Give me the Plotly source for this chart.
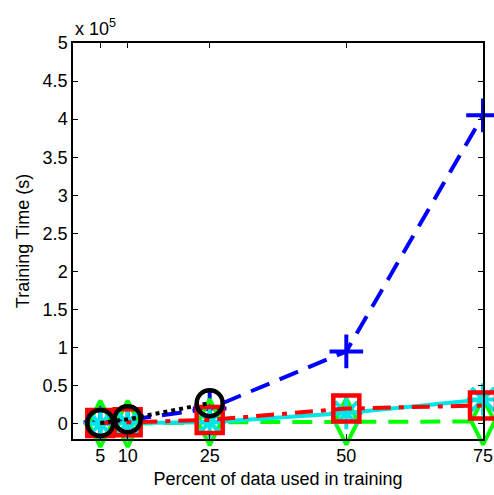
import plotly.graph_objects as go

# Training time (seconds) versus share of data used for training
pct = [5, 10, 25, 50, 75]
pct_short = [5, 10, 25]

time_blue = [2000, 5000, 20000, 95000, 405000]
time_black = [1000, 6000, 27000]
time_red = [1000, 2000, 5000, 20000, 24000]
time_cyan = [0, 1000, 2000, 14000, 32000]
time_green = [0, 0, 2000, 3000, 3000]

y_ticks = [0, 50000, 100000, 150000, 200000, 250000, 300000, 350000, 400000, 450000, 500000]
y_tick_text = ["0", "0.5", "1", "1.5", "2", "2.5", "3", "3.5", "4", "4.5", "5"]
x_ticks = [5, 10, 25, 50, 75]

FONT = "Liberation Sans, Arial, Helvetica, sans-serif"
FS = 18

fig = go.Figure()

fig.add_trace(go.Scatter(
    x=pct, y=time_blue, mode="lines+markers", cliponaxis=False,
    line=dict(color="#0000ff", width=4, dash="20px,11px"),
    marker=dict(symbol="cross-thin-open", size=24, color="#0000ff",
                line=dict(color="#0000ff", width=4)),
))
fig.add_trace(go.Scatter(
    x=pct, y=time_green, mode="lines+markers", cliponaxis=False,
    line=dict(color="#00ff00", width=4, dash="20px,12px"),
    marker=dict(symbol="diamond-tall-open", size=33, color="#00ff00",
                line=dict(color="#00ff00", width=4)),
))
fig.add_trace(go.Scatter(
    x=pct, y=time_cyan, mode="lines+markers", cliponaxis=False,
    line=dict(color="#00e5e5", width=4),
    marker=dict(symbol="asterisk-open", size=27, color="#00e5e5",
                line=dict(color="#00e5e5", width=4)),
))
fig.add_trace(go.Scatter(
    x=pct, y=time_red, mode="lines+markers", cliponaxis=False,
    line=dict(color="#ff0000", width=4, dash="18px,8px,5px,8px"),
    marker=dict(symbol="square-open", size=26, color="#ff0000",
                line=dict(color="#ff0000", width=4.5)),
))
fig.add_trace(go.Scatter(
    x=pct_short, y=time_black, mode="lines+markers", cliponaxis=False,
    line=dict(color="#000000", width=4, dash="dot"),
    marker=dict(symbol="circle-open", size=26, color="#000000",
                line=dict(color="#000000", width=4.5)),
))

axis_common = dict(
    showline=True, linecolor="#000000", linewidth=1.5, mirror="allticks",
    ticks="inside", ticklen=5, tickcolor="#000000", tickwidth=1,
    showgrid=False, zeroline=False, automargin=False,
    tickfont=dict(family=FONT, size=FS, color="#000000"),
)

fig.update_xaxes(
    range=[0, 75], tickmode="array", tickvals=x_ticks,
    ticktext=[str(v) for v in x_ticks],
    title=dict(text="Percent of data used in training",
               font=dict(family=FONT, size=FS, color="#000000"), standoff=7),
    **axis_common,
)
fig.update_yaxes(
    range=[-20000, 500000], tickmode="array", tickvals=y_ticks,
    ticktext=y_tick_text,
    title=dict(text="Training Time (s)",
               font=dict(family=FONT, size=FS, color="#000000"), standoff=8),
    **axis_common,
)

fig.add_annotation(
    x=0, y=1, xref="paper", yref="paper", xanchor="left", yanchor="bottom",
    yshift=2, showarrow=False,
    text="x 10<sup>5</sup>", font=dict(family=FONT, size=FS, color="#000000"),
)

fig.update_layout(
    width=494, height=495, showlegend=False,
    plot_bgcolor="#ffffff", paper_bgcolor="#ffffff",
    margin=dict(l=73, r=11, t=43, b=56),
)

fig.write_html("out.html")
